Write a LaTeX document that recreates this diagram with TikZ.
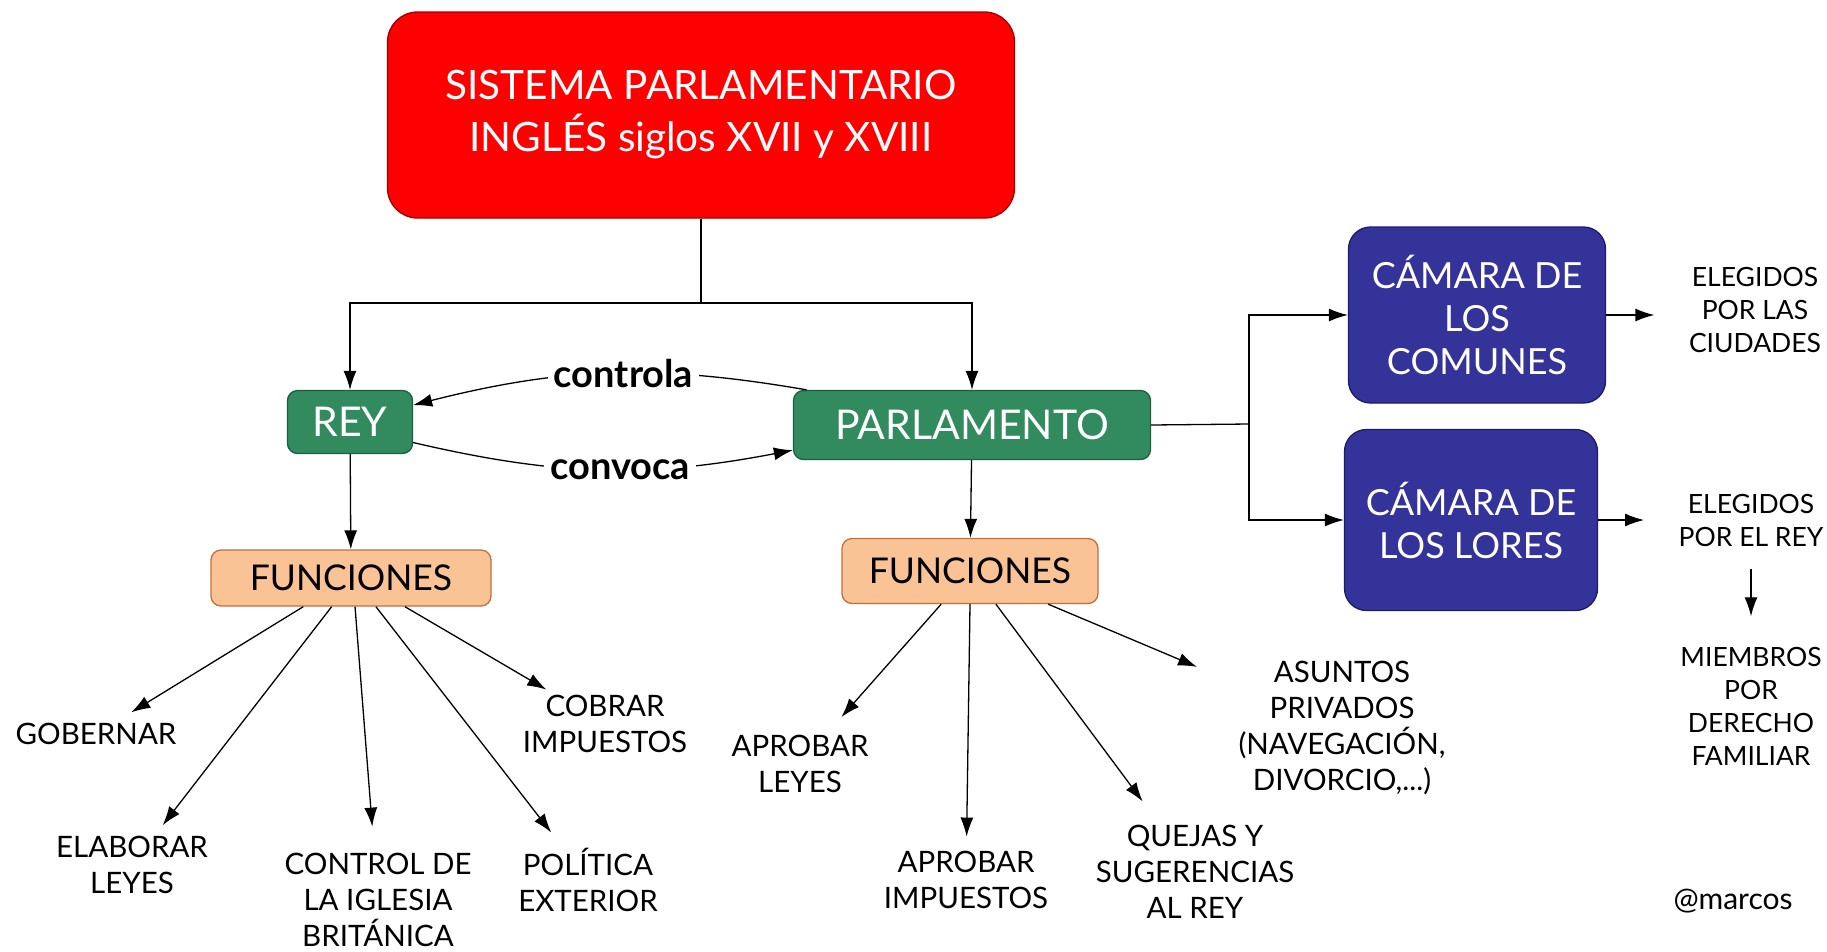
\documentclass[tikz,border=0pt]{standalone}
\usepackage{fontspec}
\setmainfont{Lato}
\usetikzlibrary{arrows.meta,positioning}
\definecolor{rojo}{HTML}{FF0000}
\definecolor{rojoborde}{HTML}{A00000}
\definecolor{verde}{HTML}{318B5E}
\definecolor{verdeborde}{HTML}{1F5E3D}
\definecolor{melocoton}{HTML}{FAC396}
\definecolor{melocotonborde}{HTML}{C0703C}
\definecolor{azul}{HTML}{333399}
\definecolor{azulborde}{HTML}{1C1C6A}
\tikzset{
  titulobox/.style={draw=rojoborde,fill=rojo,rounded corners=30pt,text=white,align=center,
    font=\fontsize{40.5}{52}\selectfont},
  verdebox/.style={draw=verdeborde,fill=verde,rounded corners=10pt,text=white,
    font=\fontsize{41}{44}\selectfont},
  funbox/.style={draw=melocotonborde,fill=melocoton,rounded corners=10pt,text=black,
    font=\fontsize{35.5}{40}\selectfont},
  camarabox/.style={draw=azulborde,fill=azul,rounded corners=22pt,text=white,align=center,
    font=\fontsize{36}{43}\selectfont},
  hoja/.style={align=center,inner sep=4pt,font=\fontsize{29.5}{36}\selectfont},
  nota/.style={align=center,inner sep=4pt,font=\fontsize{26.5}{33}\selectfont},
  etiqueta/.style={fill=white,inner sep=6pt,font=\bfseries\fontsize{38}{42}\selectfont},
  flecha/.style={->,shorten >=#1},
  flecha/.default=8pt
}
\begin{document}
\begin{tikzpicture}[x=1pt,y=-1pt,line width=1.3pt,>={Latex[length=19pt,width=13pt]}]
\useasboundingbox[fill=white] (0,0) rectangle (1827,951);
% cajas principales
\node (titulo) [titulobox,minimum width=627pt,minimum height=206pt] at (701,115)
  {SISTEMA PARLAMENTARIO\\INGLÉS siglos XVII y XVIII};
\node (rey) [verdebox,minimum width=125pt,minimum height=63pt] at (350,422) {REY};
\node (parl) [verdebox,minimum width=357pt,minimum height=69pt] at (972,425) {PARLAMENTO};
\node (fun1) [funbox,minimum width=280pt,minimum height=56pt] at (351,578) {FUNCIONES};
\node (fun2) [funbox,minimum width=256pt,minimum height=65pt] at (970,571) {FUNCIONES};
\node (comunes) [camarabox,minimum width=257pt,minimum height=176pt] at (1477,315)
  {CÁMARA DE\\LOS\\COMUNES};
\node (lores) [camarabox,minimum width=253pt,minimum height=181pt] at (1471,520)
  {CÁMARA DE\\LOS LORES};
% funciones del rey
\node (gobernar) [hoja] at (96,734) {GOBERNAR};
\node (elaborar) [hoja] at (132,865) {ELABORAR\\LEYES};
\node (iglesia) [hoja] at (378,900) {CONTROL DE\\LA IGLESIA\\BRITÁNICA};
\node (politica) [hoja] at (588,880) {POLÍTICA\\EXTERIOR};
\node (cobrar) [hoja] at (605,724) {COBRAR\\IMPUESTOS};
% funciones del parlamento
\node (leyes) [hoja] at (800,764) {APROBAR\\LEYES};
\node (impuestos) [hoja] at (966,880) {APROBAR\\IMPUESTOS};
\node (quejas) [hoja] at (1195,872) {QUEJAS Y\\SUGERENCIAS\\AL REY};
\node (asuntos) [hoja] at (1342,728) {ASUNTOS\\PRIVADOS\\(NAVEGACIÓN,\\DIVORCIO,...)};
% camaras
\node (ciudades) [nota] at (1755,310) {ELEGIDOS\\POR LAS\\CIUDADES};
\node (elegrey) [nota] at (1751,520) {ELEGIDOS\\POR EL REY};
\node (miembros) [nota] at (1751,706) {MIEMBROS\\POR\\DERECHO\\FAMILIAR};
\node (firma) [nota,font=\fontsize{30}{34}\selectfont] at (1733,901) {@marcos};
%
\coordinate (j1) at (701,303);
\coordinate (j2) at (1249,424);
\draw (titulo.south) -- (j1);
\draw[->] (j1) -| (rey);
\draw[->] (j1) -| (parl);
\path[->] (parl.168) edge[bend right=12] node[etiqueta,pos=0.46] {controla} (rey.15);
\path[->] (rey.-18) edge[bend right=12] node[etiqueta,pos=0.55] {convoca} (parl.188);
\draw[->] (rey) -- (fun1);
\draw[->] (parl) -- (fun2);
%
\draw[flecha=12pt] (fun1.-149) -- (gobernar);
\draw[flecha=8pt] (fun1.-124) -- (elaborar);
\draw[flecha=22pt] (fun1.-82) -- (iglesia);
\draw[flecha=14pt] (fun1.-49) -- (politica);
\draw[flecha=2pt] (fun1.-28) -- (cobrar);
%
\draw[flecha=18pt] (fun2.-131) -- (leyes);
\draw[flecha=10pt] (fun2.-90) -- (impuestos);
\draw[flecha=24pt] (fun2.-52) -- (quejas);
\draw[flecha=40pt] (fun2.-23) -- (asuntos);
%
\draw (parl.east) -- (j2);
\draw[->] (j2) |- (comunes);
\draw[->] (j2) |- (lores);
\draw[flecha=30pt] (comunes.east) -- (comunes.east -| ciudades.west);
\draw[flecha=30pt] (lores.east) -- (lores.east -| elegrey.west);
\draw[->,shorten <=18pt,shorten >=26pt] (elegrey.south) -- (miembros.north);
\end{tikzpicture}
\end{document}
